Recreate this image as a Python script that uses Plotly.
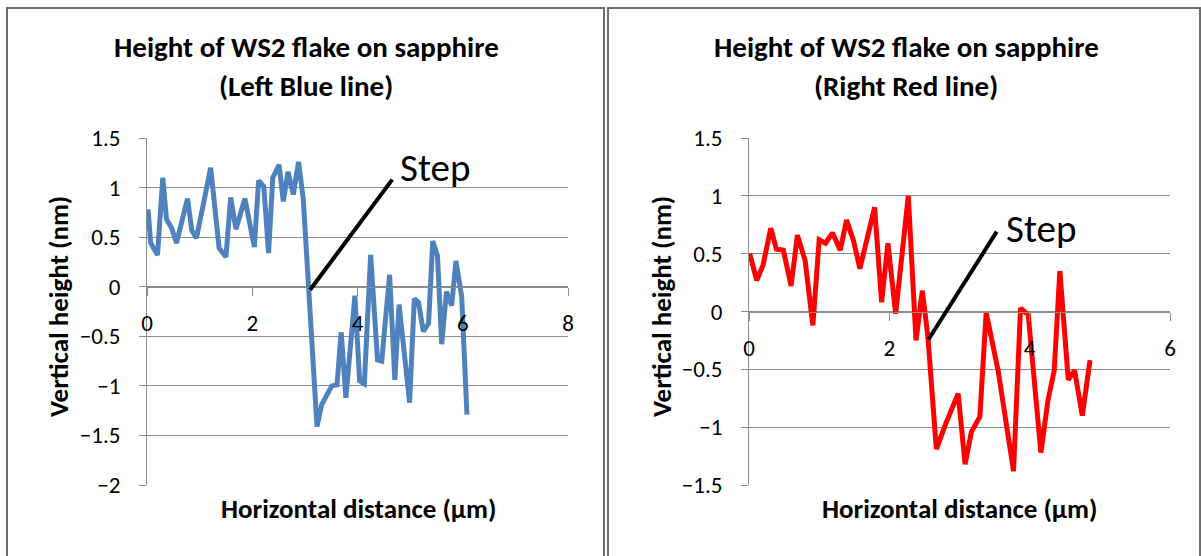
import plotly.graph_objects as go

# ---------------- data ----------------
left_x = [0.02, 0.07, 0.20, 0.30, 0.37, 0.47, 0.56, 0.77, 0.85, 0.94, 1.21, 1.37, 1.50,
          1.59, 1.69, 1.86, 2.04, 2.12, 2.22, 2.31, 2.39, 2.51, 2.59, 2.68, 2.78, 2.88,
          2.97, 3.08, 3.23, 3.32, 3.51, 3.61, 3.69, 3.78, 3.95, 4.04, 4.13, 4.25, 4.38,
          4.46, 4.61, 4.71, 4.79, 4.99, 5.08, 5.16, 5.25, 5.35, 5.43, 5.52, 5.60, 5.69,
          5.79, 5.87, 5.98, 6.08]
left_y = [0.78, 0.44, 0.32, 1.10, 0.68, 0.59, 0.44, 0.89, 0.57, 0.49, 1.20, 0.39, 0.30,
          0.90, 0.58, 0.89, 0.40, 1.07, 1.01, 0.34, 1.10, 1.23, 0.86, 1.16, 0.93, 1.26,
          0.88, -0.10, -1.41, -1.19, -1.00, -0.99, -0.46, -1.12, -0.09, -0.95, -0.98, 0.32,
          -0.74, -0.75, 0.12, -0.94, -0.18, -1.17, -0.12, -0.16, -0.45, -0.37, 0.46, 0.31,
          -0.58, -0.05, -0.19, 0.26, -0.10, -1.29]

right_x = [0.01, 0.11, 0.20, 0.31, 0.39, 0.49, 0.60, 0.69, 0.80, 0.91, 1.00, 1.09, 1.19,
           1.30, 1.39, 1.49, 1.58, 1.79, 1.89, 1.98, 2.09, 2.27, 2.38, 2.47, 2.55, 2.67,
           2.81, 2.98, 3.08, 3.17, 3.29, 3.38, 3.55, 3.77, 3.87, 3.98, 4.16, 4.26, 4.35,
           4.43, 4.55, 4.64, 4.75, 4.86]
right_y = [0.50, 0.27, 0.40, 0.72, 0.54, 0.53, 0.22, 0.66, 0.44, -0.12, 0.62, 0.59, 0.68,
           0.53, 0.79, 0.61, 0.37, 0.90, 0.08, 0.59, -0.02, 1.00, -0.25, 0.18, -0.22, -1.19,
           -0.96, -0.71, -1.32, -1.04, -0.91, -0.01, -0.51, -1.38, 0.03, -0.03, -1.22, -0.77,
           -0.51, 0.35, -0.59, -0.51, -0.90, -0.42]

title_line1 = "Height of WS2 flake on sapphire"
left_title_line2 = "(Left Blue line)"
right_title_line2 = "(Right Red line)"
x_title = "Horizontal distance (µm)"
y_title = "Vertical height (nm)"
step_label = "Step"

left_yticks = [1.5, 1, 0.5, 0, -0.5, -1, -1.5, -2]
right_yticks = [1.5, 1, 0.5, 0, -0.5, -1, -1.5]
left_xticks = [0, 2, 4, 6, 8]
right_xticks = [0, 2, 4, 6]

# ---------------- layout helpers ----------------
W, H = 1201, 556
def px(x):
    return x / W
def py(y):
    return 1 - y / H

FONT = "Carlito, Lato, 'Liberation Sans', sans-serif"
GRID = "#8c8c8c"
BLUE = "#4F81BD"
RED = "#FF0000"

ydom = [py(485), py(138)]
lx_dom = [px(147), px(568)]
rx_dom = [px(749), px(1170)]

def zero_pos(rng):
    lo, hi = rng
    return ydom[0] + (0 - lo) / (hi - lo) * (ydom[1] - ydom[0])

left_yr = [-2, 1.5]
right_yr = [-1.5, 1.5]

fig = go.Figure()
fig.add_trace(go.Scatter(x=left_x, y=left_y, mode="lines", xaxis="x", yaxis="y",
                         line=dict(color=BLUE, width=5), showlegend=False))
fig.add_trace(go.Scatter(x=right_x, y=right_y, mode="lines", xaxis="x2", yaxis="y2",
                         line=dict(color=RED, width=5), showlegend=False))

tickfont = dict(family=FONT, size=23, color="black")
common_x = dict(showgrid=False, zeroline=False, showline=True, linecolor=GRID, linewidth=1,
                ticks="outside", ticklen=8, tickcolor=GRID, tickfont=tickfont,
                ticklabelstandoff=8, anchor="free", automargin=False)
common_y = dict(showgrid=True, gridcolor=GRID, gridwidth=1, zeroline=False, showline=True,
                linecolor=GRID, linewidth=1, ticks="outside", ticklen=7, tickcolor=GRID,
                tickfont=tickfont, ticklabelstandoff=14, automargin=False)

fig.update_layout(
    template="none",
    width=W, height=H, margin=dict(l=0, r=0, t=0, b=0, autoexpand=False),
    paper_bgcolor="white", plot_bgcolor="white", showlegend=False,
    xaxis=dict(domain=lx_dom, range=[0, 8], tickvals=left_xticks,
               position=zero_pos(left_yr), **common_x),
    yaxis=dict(domain=ydom, range=left_yr, tickvals=left_yticks, anchor="x", **common_y),
    xaxis2=dict(domain=rx_dom, range=[0, 6], tickvals=right_xticks,
                position=zero_pos(right_yr), **common_x),
    yaxis2=dict(domain=ydom, range=right_yr, tickvals=right_yticks, anchor="x2", **common_y),
)

# chart borders
for x0, x1 in [(7, 604), (608, 1200)]:
    fig.add_shape(type="rect", xref="paper", yref="paper", x0=px(x0), x1=px(x1),
                  y0=py(560), y1=py(8), line=dict(color="#6e6e6e", width=2))

# titles
bold = lambda s: dict(family=FONT, size=s, color="black")
for cx, l2 in [(306, left_title_line2), (906, right_title_line2)]:
    fig.add_annotation(x=px(cx), y=py(47), xref="paper", yref="paper", text="<b>%s</b>" % title_line1,
                       showarrow=False, font=bold(29), xanchor="center", yanchor="middle")
    fig.add_annotation(x=px(cx), y=py(86), xref="paper", yref="paper", text="<b>%s</b>" % l2,
                       showarrow=False, font=bold(29), xanchor="center", yanchor="middle")

# axis titles
for cx in [358, 959]:
    fig.add_annotation(x=px(cx), y=py(508), xref="paper", yref="paper", text="<b>%s</b>" % x_title,
                       showarrow=False, font=bold(27), xanchor="center", yanchor="middle")
for cx in [58, 661]:
    fig.add_annotation(x=px(cx), y=py(307), xref="paper", yref="paper", text="<b>%s</b>" % y_title,
                       showarrow=False, font=bold(27), textangle=-90, xanchor="center", yanchor="middle")

# Step callouts (drawn lines + text)
left_step_line = (3.10, -0.03, 4.66, 1.08)
right_step_line = (2.56, -0.24, 3.53, 0.69)
for (xr, yr, ln, tx, ty) in [("x", "y", left_step_line, 4.76, 1.20),
                             ("x2", "y2", right_step_line, 3.64, 0.72)]:
    fig.add_shape(type="line", xref=xr, yref=yr, x0=ln[0], y0=ln[1], x1=ln[2], y1=ln[3],
                  line=dict(color="black", width=4))
    fig.add_annotation(x=tx, y=ty, xref=xr, yref=yr, text=step_label, showarrow=False,
                       font=dict(family=FONT, size=39, color="black"),
                       xanchor="left", yanchor="middle")

fig.write_html("out.html", config={"displayModeBar": False},
               post_script="document.body.style.margin='0';document.body.style.overflow='hidden';")
